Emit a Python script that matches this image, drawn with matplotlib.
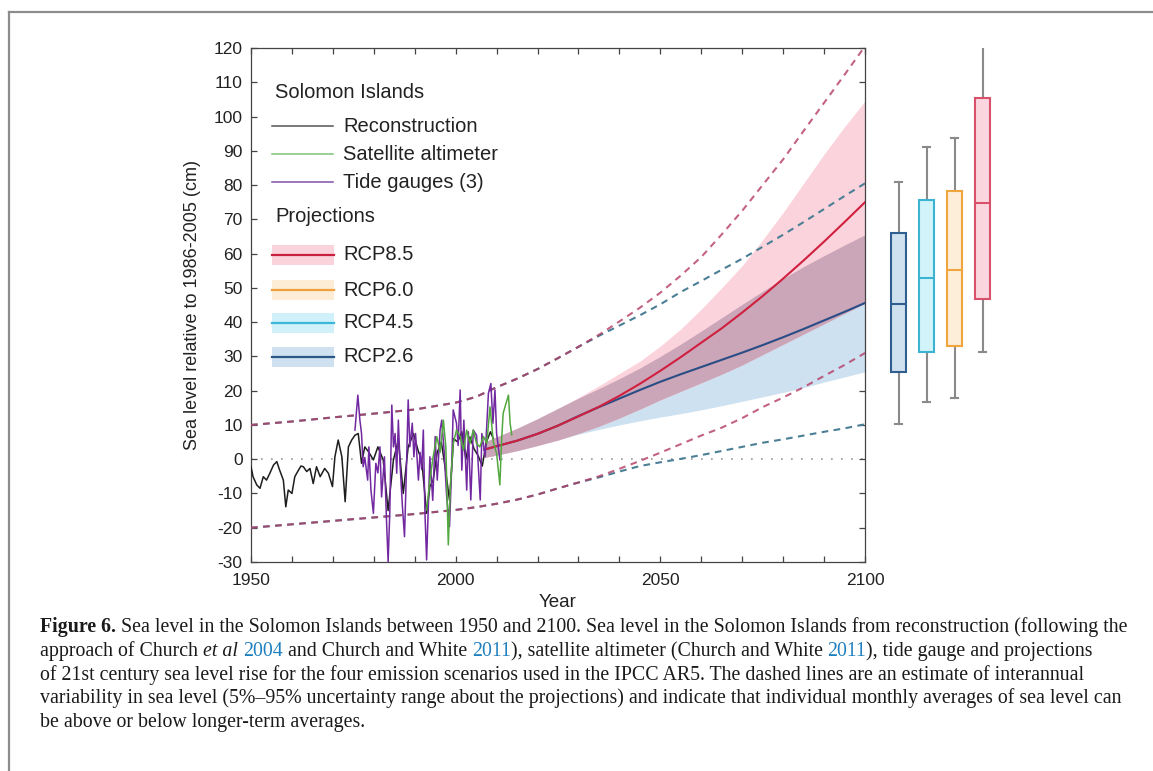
import matplotlib
matplotlib.use('Agg')
import matplotlib.pyplot as plt
from matplotlib.lines import Line2D
from matplotlib.patches import Rectangle
from matplotlib.ticker import MultipleLocator
import numpy as np

# ---------------- data ----------------
recon_years = [1950.0, 1950.5, 1951.4, 1952.2, 1953.0, 1953.8, 1954.6, 1955.5, 1956.3, 1957.0,
               1957.9, 1958.5, 1959.1, 1960.0, 1960.7, 1961.6, 1962.2, 1962.8, 1963.6, 1964.4,
               1965.2, 1966.0, 1966.9, 1968.0, 1968.9, 1969.9, 1970.5, 1971.3, 1972.2, 1973.0,
               1973.8, 1974.6, 1975.4, 1976.2, 1977.0, 1977.8, 1978.7, 1979.9, 1981.0, 1982.3,
               1983.5, 1984.8, 1986.0, 1987.2, 1988.4, 1989.7, 1990.9, 1991.7, 1992.9, 1993.7,
               1994.5, 1995.5, 1996.5, 1997.5, 1998.5, 1999.5, 2000.5, 2001.5, 2002.5, 2003.5,
               2004.5, 2005.5, 2006.5, 2007.5, 2008.5, 2009.2]
recon_values = [-2.2, -5.1, -7.5, -8.5, -5.1, -6.1, -4.1, -1.7, -0.7, -3.2,
                -6.1, -13.9, -9.0, -10.0, -5.1, -3.2, -2.0, -2.2, -3.6, -2.7,
                -7.1, -2.2, -5.1, -2.7, -4.1, -8.0, 0.7, 5.6, 0.7, -12.4,
                3.6, 5.6, 7.0, 7.5, -1.2, 3.6, 2.2, -0.2, 3.6, -0.2,
                -15.0, -0.2, 5.6, -10.0, 3.6, 7.5, 2.2, -0.2, -15.8, -8.0,
                -6.1, 2.0, 5.0, -3.0, -12.0, 6.0, 5.0, 8.0, 0.0, 6.5,
                3.0, 1.0, -2.0, 5.0, 8.0, 6.0]

tide_years = [1975.4, 1976.1, 1976.6, 1977.0, 1977.4, 1977.8, 1978.5, 1978.8, 1979.3, 1979.9,
              1980.5, 1981.0, 1981.5, 1981.9, 1982.6, 1983.1, 1983.5, 1983.9, 1984.4, 1984.8,
              1985.2, 1985.6, 1986.0, 1986.4, 1987.0, 1987.5, 1987.9, 1988.4, 1988.8, 1989.4,
              1989.8, 1990.2, 1990.9, 1991.3, 1991.7, 1992.1, 1992.5, 1992.9, 1993.3, 1993.7,
              1994.4, 1995.0, 1995.5, 1996.2, 1996.6, 1997.2, 1997.8, 1998.5, 1999.0, 1999.4,
              2000.2, 2000.6, 2001.1, 2001.5, 2002.0, 2002.7, 2003.1, 2003.7, 2004.3, 2005.1,
              2006.0, 2006.4, 2007.2, 2008.0, 2008.6, 2009.1, 2009.6, 2010.0, 2010.8]
tide_values = [8.5, 18.7, 11.4, 7.5, -2.2, 0.5, -6.1, 3.6, -9.0, -15.8,
               -1.2, -4.0, 3.6, -11.0, 0.7, -17.8, -29.9, -15.8, 15.8, 3.6,
               7.5, -4.1, 11.4, -1.2, -13.9, -22.6, -6.1, 17.3, 3.6, 10.5,
               0.7, 7.5, -6.1, 2.0, -3.0, 8.5, -15.8, -29.4, -14.8, 0.7,
               -12.0, 6.6, -6.1, 8.5, 11.4, 2.0, -10.9, -19.7, -3.0, 14.4,
               10.5, 4.0, 20.2, -3.2, 11.4, -9.0, 8.0, -11.9, 8.5, 7.0,
               -11.9, 7.5, 0.7, 19.2, 22.1, 10.5, 20.2, 7.5, -0.2]

sat_years = [1992.9, 1993.7, 1994.5, 1995.4, 1996.2, 1997.0, 1997.6, 1998.2, 1998.7, 1999.4,
             2000.2, 2001.1, 2001.9, 2002.7, 2003.5, 2004.3, 2005.1, 2005.9, 2006.8, 2007.6,
             2008.4, 2009.2, 2010.0, 2010.8, 2011.2, 2011.6, 2012.3, 2012.9, 2013.3, 2013.7]
sat_values = [-14.8, -6.1, 0.7, 6.6, 2.0, 11.4, 3.6, -25.0, -8.0, 4.6,
              8.5, 6.6, 2.7, 8.5, 4.6, 8.5, 4.6, 3.6, 6.6, 4.6,
              15.3, 5.0, 1.7, -7.5, 5.0, 13.4, 16.3, 18.7, 10.5, 7.1]

proj_years = [2007, 2010, 2015, 2020, 2025, 2030, 2035, 2040, 2045, 2050,
              2055, 2060, 2065, 2070, 2075, 2080, 2085, 2090, 2095, 2100]
rcp85_med = [2.8, 3.8, 5.4, 7.4, 9.8, 12.5, 15.3, 18.5, 22.0, 25.8,
             29.8, 34.0, 38.2, 42.8, 47.6, 52.7, 58.0, 63.5, 69.2, 75.0]
rcp85_hi = [5.0, 6.5, 9.0, 11.8, 14.8, 18.0, 21.4, 25.0, 28.6, 33.0,
            38.0, 43.8, 50.0, 56.5, 64.0, 72.0, 80.5, 89.0, 97.0, 104.5]
rcp85_lo = [0.5, 1.2, 2.5, 4.0, 5.6, 7.5, 9.6, 12.0, 14.6, 17.3,
            19.8, 22.3, 24.8, 27.5, 30.5, 33.5, 36.5, 39.5, 42.5, 45.5]
rcp26_med = [2.8, 3.8, 5.4, 7.4, 9.8, 12.6, 15.2, 17.7, 20.2, 22.6,
             24.8, 26.9, 29.0, 31.1, 33.3, 35.6, 38.0, 40.5, 43.0, 45.6]
rcp26_hi = [5.0, 6.5, 9.0, 11.8, 14.8, 17.8, 20.6, 23.5, 26.6, 30.0,
            33.6, 37.4, 41.3, 45.2, 49.0, 52.7, 56.2, 59.4, 62.5, 65.5]
rcp26_lo = [0.5, 1.2, 2.5, 4.0, 5.6, 7.3, 8.7, 10.0, 11.2, 12.3,
            13.3, 14.4, 15.6, 16.9, 18.2, 19.5, 20.9, 22.5, 24.0, 25.5]

var_years = [1950, 1960, 1970, 1980, 1990, 2000, 2005, 2010, 2015, 2020, 2025, 2030,
             2035, 2040, 2045, 2050, 2055, 2060, 2065, 2070, 2075, 2080, 2085, 2090, 2095, 2100]
var85_hi = [10.0, 11.0, 12.2, 13.3, 14.5, 16.5, 18.2, 21.0, 23.5, 26.3, 29.5, 32.8,
            36.3, 40.2, 44.2, 48.6, 53.6, 59.0, 65.6, 72.5, 80.0, 87.5, 95.8, 104.0, 112.2, 120.5]
var26_hi = [10.0, 11.0, 12.2, 13.3, 14.5, 16.5, 18.2, 21.0, 23.5, 26.3, 29.5, 32.8,
            36.0, 39.0, 42.0, 45.2, 48.8, 52.0, 55.3, 58.5, 62.0, 65.5, 69.2, 73.0, 76.8, 80.5]
var85_lo = [-20.0, -19.0, -18.0, -17.0, -16.0, -14.8, -14.0, -13.0, -11.8, -10.3, -8.5, -6.8,
            -5.0, -2.8, -0.5, 1.9, 4.4, 6.9, 9.2, 12.0, 15.2, 18.0, 21.0, 24.3, 27.5, 31.0]
var26_lo = [-20.0, -19.0, -18.0, -17.0, -16.0, -14.8, -14.0, -13.0, -11.8, -10.3, -8.5, -6.8,
            -5.3, -3.6, -2.0, -0.9, 0.1, 1.2, 2.4, 3.6, 4.8, 5.8, 6.9, 8.0, 9.0, 10.2]

box_labels = ['RCP2.6', 'RCP4.5', 'RCP6.0', 'RCP8.5']
box_whislo = [10.3, 16.6, 17.8, 31.3]
box_q1 = [25.5, 31.3, 33.0, 46.8]
box_med = [45.4, 52.9, 55.1, 74.7]
box_q3 = [66.0, 75.5, 78.4, 105.3]
box_whishi = [80.8, 91.0, 93.8, 120.8]
box_edge = ['#2f5f90', '#3bb4d2', '#f0a63c', '#d8506c']
box_face = ['#cfe0ef', '#d3f3fa', '#fdeed9', '#fcd6de']

legend_obs = ['Reconstruction', 'Satellite altimeter', 'Tide gauges (3)']
legend_proj = ['RCP8.5', 'RCP6.0', 'RCP4.5', 'RCP2.6']

# ---------------- figure ----------------
W, H = 1153, 771
plt.rcParams['font.family'] = ['Liberation Sans', 'DejaVu Sans']
plt.rcParams['axes.unicode_minus'] = False
fig = plt.figure(figsize=(W / 100, H / 100), dpi=100)
fig.patch.set_facecolor('white')

# frame lines of the page
fig.add_artist(Line2D([9 / W, 9 / W], [0, 1 - 12 / H], transform=fig.transFigure,
                      color='#8c8c8c', lw=1.6))
fig.add_artist(Line2D([9 / W, 1], [1 - 12 / H, 1 - 12 / H], transform=fig.transFigure,
                      color='#8c8c8c', lw=1.6))

ax = fig.add_axes([251 / W, 1 - 562 / H, 614 / W, 514 / H])
ax.set_xlim(1950, 2100)
ax.set_ylim(-30, 120)

ax.axhline(0, color='#999999', lw=1.2, linestyle=(0, (1, 5)), zorder=1)

# bands
py = np.array(proj_years)
h85, l85 = np.array(rcp85_hi), np.array(rcp85_lo)
h26, l26 = np.array(rcp26_hi), np.array(rcp26_lo)
ax.fill_between(py, l26, h26, color='#cde1f0', lw=0, zorder=2)
ax.fill_between(py, l85, h85, color='#fbd3dc', lw=0, zorder=2)
ax.fill_between(py, np.maximum(l85, l26), np.minimum(h85, h26), color='#cba5b8', lw=0, zorder=2)

ax.plot(proj_years, rcp26_med, color='#2a4d86', lw=1.5, zorder=3)
ax.plot(proj_years, rcp85_med, color='#d0203f', lw=1.5, zorder=3)

dash = (3.2, 2.6)
ax.plot(var_years, var26_hi, color='#4a7f96', lw=1.5, dashes=dash, zorder=3)
ax.plot(var_years, var26_lo, color='#4a7f96', lw=1.5, dashes=dash, zorder=3)
ax.plot(var_years, var85_hi, color='#b53c66', lw=1.5, dashes=dash, zorder=3, alpha=0.8)
ax.plot(var_years, var85_lo, color='#b53c66', lw=1.5, dashes=dash, zorder=3, alpha=0.8)

ax.plot(recon_years, recon_values, color='#1e1e1e', lw=1.1, zorder=4)
ax.plot(tide_years, tide_values, color='#7228a0', lw=1.1, zorder=5)
ax.plot(sat_years, sat_values, color='#52a83e', lw=1.1, zorder=6)

# axes styling
for s in ax.spines.values():
    s.set_color('#444444')
    s.set_linewidth(0.9)
ax.set_xticks([1950, 2000, 2050, 2100])
ax.xaxis.set_minor_locator(MultipleLocator(10))
ax.yaxis.set_major_locator(MultipleLocator(10))
ax.tick_params(which='both', direction='in', top=True, right=True, length=4.5,
               width=0.9, color='#444444', labelsize=12.5, labelcolor='#222222')
ax.tick_params(axis='x', pad=8)
ax.tick_params(axis='y', pad=6)
ax.set_xlabel('Year', fontsize=13.5, color='#222222', labelpad=4)
ax.set_ylabel('Sea level relative to 1986-2005 (cm)', fontsize=13, color='#222222', labelpad=9)

# legend (manual)
def px2ax(x, y):
    return (x - 251) / 614, (562 - y) / 514

lfs = 14.5
x0, _ = px2ax(275, 0)
ax.text(x0, px2ax(0, 92)[1], 'Solomon Islands', transform=ax.transAxes, fontsize=lfs,
        va='center', ha='left', color='#222222', zorder=10)
obs_cols = ['#555555', '#7fc27a', '#8450a8']
for lab, col, yy in zip(legend_obs, obs_cols, [126, 154, 182]):
    xa, ya = px2ax(272, yy)
    xb, _ = px2ax(333, yy)
    ax.add_line(Line2D([xa, xb], [ya, ya], transform=ax.transAxes, color=col, lw=1.1, zorder=10))
    ax.text(px2ax(343, 0)[0], ya, lab, transform=ax.transAxes, fontsize=lfs, va='center',
            ha='left', color='#222222', zorder=10)
ax.text(x0, px2ax(0, 217)[1], 'Projections', transform=ax.transAxes, fontsize=lfs,
        va='center', ha='left', color='#222222', zorder=10)
proj_face = ['#fbd3dc', '#fdecd6', '#d0f1fa', '#cfe0f0']
proj_line = ['#c8203f', '#f0a040', '#3cb8d8', '#2a5587']
for lab, fc, lc, yy in zip(legend_proj, proj_face, proj_line, [255, 290, 323, 357]):
    xa, ya = px2ax(272, yy)
    xb, _ = px2ax(334, yy)
    hh = 20 / 514
    ax.add_patch(Rectangle((xa, ya - hh / 2), xb - xa, hh, transform=ax.transAxes,
                           facecolor=fc, edgecolor='none', zorder=10))
    ax.add_line(Line2D([xa, xb], [ya, ya], transform=ax.transAxes, color=lc, lw=1.6, zorder=11))
    ax.text(px2ax(343, 0)[0], ya, lab, transform=ax.transAxes, fontsize=lfs, va='center',
            ha='left', color='#222222', zorder=10)

# box plots
axb = fig.add_axes([870.5 / W, 1 - 562 / H, 126 / W, 514 / H])
axb.set_xlim(0, 4.5)
axb.set_ylim(-30, 120)
axb.axis('off')
stats = []
for i in range(4):
    stats.append(dict(label=box_labels[i], whislo=box_whislo[i], q1=box_q1[i],
                      med=box_med[i], q3=box_q3[i], whishi=box_whishi[i], fliers=[]))
bp = axb.bxp(stats, positions=[1, 2, 3, 4], widths=0.54, patch_artist=True,
             showfliers=False, manage_ticks=False)
for i in range(4):
    bp['boxes'][i].set(facecolor=box_face[i], edgecolor=box_edge[i], linewidth=1.5, zorder=3)
    bp['medians'][i].set(color=box_edge[i], linewidth=1.5, zorder=4)
for w in bp['whiskers']:
    w.set(color='#8a8a8a', linewidth=1.5, zorder=2)
for c in bp['caps']:
    c.set(color='#8a8a8a', linewidth=1.5, zorder=2)

# caption
renderer = fig.canvas.get_renderer()
cap_family = ['Liberation Serif', 'DejaVu Serif']

def measure(s, **kw):
    t = fig.text(0, 0, s, **kw)
    w = t.get_window_extent(renderer).width
    t.remove()
    return w

line1 = [('Figure 6.', 'b'), (' Sea level in the Solomon Islands between 1950 and 2100. Sea level in the Solomon Islands from reconstruction (following the', 'n')]
line2 = [('approach of Church ', 'n'), ('et al', 'i'), (' ', 'n'), ('2004', 'c'),
         (' and Church and White ', 'n'), ('2011', 'c'),
         ('), satellite altimeter (Church and White ', 'n'), ('2011', 'c'),
         ('), tide gauge and projections', 'n')]
line3 = [('of 21st century sea level rise for the four emission scenarios used in the IPCC AR5. The dashed lines are an estimate of interannual', 'n')]
line4 = [('variability in sea level (5%–95% uncertainty range about the projections) and indicate that individual monthly averages of sea level can', 'n')]
line5 = [('be above or below longer-term averages.', 'n')]

def style_kw(st, fs):
    kw = dict(fontsize=fs, family=cap_family, color='#1a1a1a')
    if st == 'b':
        kw['fontweight'] = 'bold'
    if st == 'i':
        kw['fontstyle'] = 'italic'
    if st == 'c':
        kw['color'] = '#1f80c0'
    return kw

def split_spaces(s):
    core = s.strip(' ')
    if not core:
        return len(s), '', 0
    lead = len(s) - len(s.lstrip(' '))
    trail = len(s) - len(s.rstrip(' '))
    return lead, core, trail

def line_width(pieces, fs):
    tot = 0
    for s, st in pieces:
        kw = style_kw(st, fs)
        sp = measure('a a', **kw) - measure('aa', **kw)
        lead, core, trail = split_spaces(s)
        tot += (lead + trail) * sp + (measure(core, **kw) if core else 0)
    return tot

fs0 = 14.0
w1 = line_width(line1, fs0)
fs = fs0 * 1087.0 / w1

def draw_line(pieces, x, ybase):
    for s, st in pieces:
        kw = style_kw(st, fs)
        sp = measure('a a', **kw) - measure('aa', **kw)
        lead, core, trail = split_spaces(s)
        x += lead * sp
        if core:
            fig.text(x / W, 1 - ybase / H, core, va='baseline', ha='left', **kw)
            x += measure(core, **kw)
        x += trail * sp

for pieces, yb in zip([line1, line2, line3, line4, line5], [632, 656, 680, 703, 727]):
    draw_line(pieces, 40, yb)

fig.savefig('out.png', dpi=100, facecolor='white')
